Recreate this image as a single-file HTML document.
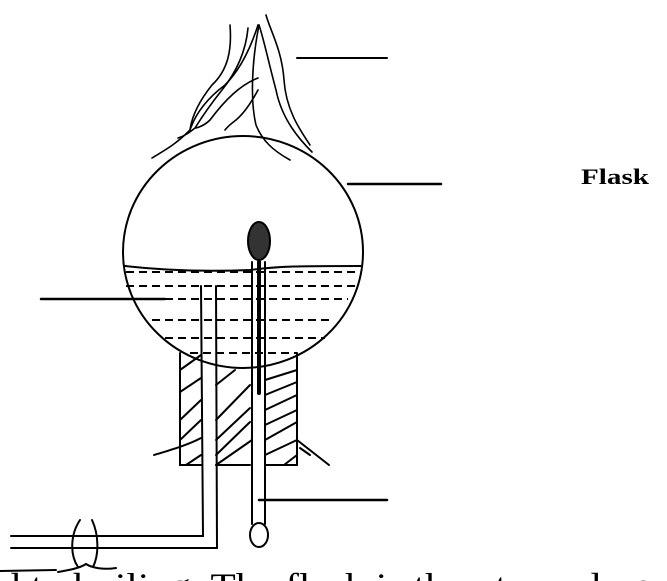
<!DOCTYPE html>
<html><head><meta charset="utf-8"><style>
html,body{margin:0;padding:0;background:#fff;width:667px;height:581px;overflow:hidden}
svg{display:block}
</style></head><body>
<svg width="667" height="581" viewBox="0 0 667 581" xmlns="http://www.w3.org/2000/svg">
<g fill="none" stroke="#000" stroke-width="2" stroke-linecap="round">
  <g stroke-width="1.6">
    <path d="M259 25 C252 60 250 100 256 125 C262 140 272 150 290 160"/>
    <path d="M259 25 C264 40 268 60 276 90 C282 120 300 140 312 152"/>
    <path d="M266 15 C270 30 282 50 284 80 C286 110 300 130 310 145"/>
    <path d="M258 25 C250 50 240 70 225 85 C205 100 195 115 190 130 C175 145 165 150 152 158"/>
    <path d="M248 28 C246 50 238 70 222 90 C210 105 200 120 195 128 C190 132 185 136 178 138"/>
    <path d="M230 25 C232 50 228 70 212 85 C200 100 192 115 190 130"/>
    <path d="M258 78 C240 85 225 100 210 120 C205 125 200 127 196 128"/>
    <path d="M258 90 C250 105 242 115 236 120 C232 123 228 126 225 130"/>
  </g>
  <ellipse cx="243" cy="252" rx="120" ry="116"/>
  <path d="M125 266 C160 270 200 272 250 270 C280 266 300 266 362 266"/>
  <g stroke-dasharray="8 5" stroke-linecap="butt">
    <line x1="126" y1="272" x2="355" y2="272"/>
    <line x1="126" y1="286" x2="359" y2="286"/>
    <line x1="165" y1="299" x2="348" y2="299"/>
    <line x1="152" y1="320" x2="333" y2="320"/>
    <line x1="165" y1="338" x2="325" y2="338"/>
    <line x1="190" y1="353" x2="297" y2="353"/>
  </g>
  <g>
    <polyline points="180,353 180,465 201,465"/>
    <polyline points="297,353 297,465 265,465"/>
    <line x1="216" y1="465" x2="250" y2="465"/>
    <line x1="180" y1="370" x2="201" y2="355"/>
    <line x1="180" y1="392" x2="201" y2="378"/>
    <line x1="180" y1="420" x2="201" y2="400"/>
    <line x1="180" y1="440" x2="201" y2="420"/>
    <line x1="186" y1="465" x2="201" y2="455"/>
    <line x1="216" y1="385" x2="235" y2="370"/>
    <line x1="216" y1="420" x2="250" y2="385"/>
    <line x1="216" y1="440" x2="250" y2="408"/>
    <line x1="216" y1="455" x2="250" y2="422"/>
    <line x1="216" y1="465" x2="252" y2="440"/>
    <line x1="265" y1="380" x2="297" y2="370"/>
    <line x1="265" y1="395" x2="297" y2="382"/>
    <line x1="265" y1="410" x2="297" y2="395"/>
    <line x1="265" y1="425" x2="297" y2="410"/>
    <line x1="265" y1="440" x2="297" y2="422"/>
    <line x1="265" y1="455" x2="297" y2="440"/>
    <line x1="284" y1="465" x2="297" y2="455"/>
    <path d="M154 455 C170 450 188 445 201 438"/>
    <line x1="297" y1="440" x2="329" y2="465"/>
    <line x1="300" y1="448" x2="310" y2="455"/>
  </g>
  <g>
    <polyline points="201,286 203,536 11,536"/>
    <polyline points="216,286 217,548 11,548"/>
  </g>
  <path d="M80 520 C70 535 70 555 78 567 M92 520 C99 535 99 555 93 567 M58 572 C70 570 80 568 86 564 C92 568 104 570 116 568 M0 571 L56 570"/>
  <g>
    <line x1="252" y1="262" x2="252" y2="524"/>
    <line x1="265" y1="262" x2="265" y2="524"/>
    <line x1="259" y1="262" x2="259" y2="393" stroke-width="4"/>
    <ellipse cx="259" cy="535" rx="9" ry="12"/>
    <ellipse cx="259" cy="241" rx="11" ry="19" fill="#333"/>
  </g>
  <g>
    <line x1="297" y1="58" x2="387" y2="58"/>
    <line x1="348" y1="184" x2="441" y2="184" stroke-width="2.5"/>
    <line x1="41" y1="299" x2="165" y2="299" stroke-width="2.5"/>
    <line x1="259" y1="500" x2="387" y2="500" stroke-width="2.5"/>
  </g>
</g>
<text x="581" y="184" font-family="Liberation Serif, serif" font-weight="bold" font-size="22" textLength="68" lengthAdjust="spacingAndGlyphs">Flask</text>
<text x="0" y="598" font-family="Liberation Serif, serif" font-size="36" textLength="680" lengthAdjust="spacingAndGlyphs">d to boiling. The flask is then turned upsi</text>
</svg>
</body></html>
